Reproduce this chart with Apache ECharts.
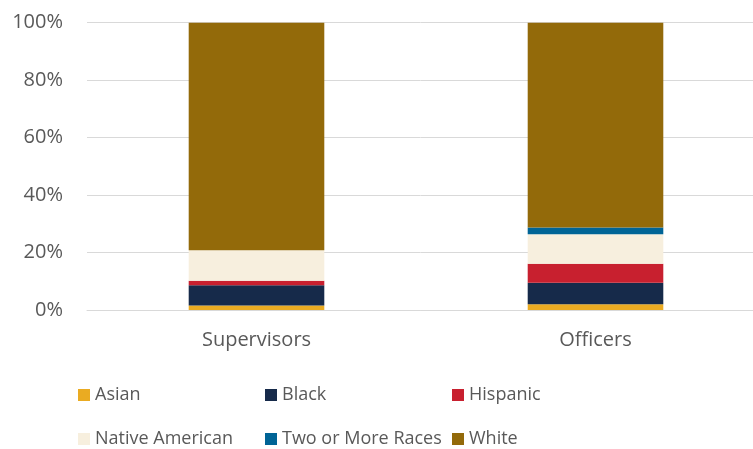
<!DOCTYPE html>
<html>
<head>
<meta charset="utf-8">
<script src="https://cdn.jsdelivr.net/npm/echarts@6/dist/echarts.min.js"></script>
<style>
  html, body { margin: 0; padding: 0; background: #fff; }
  #chart { width: 753px; height: 449px; }
</style>
</head>
<body>
<div id="chart"></div>
<script>
// Workforce composition by race, shares of each group (percent)
const categories = ['Supervisors', 'Officers'];
const seriesNames = ['Asian', 'Black', 'Hispanic', 'Native American', 'Two or More Races', 'White'];
const asian = [1.6, 2.0];
const black = [7.0, 7.5];
const hispanic = [1.6, 6.6];
const nativeAmerican = [10.6, 10.3];
const twoOrMore = [0.0, 2.3];
const white = [79.2, 71.3];
const tickLabels = ['0%', '20%', '40%', '60%', '80%', '100%'];

const seriesValues = [asian, black, hispanic, nativeAmerican, twoOrMore, white];
const colors = ['#EAAB22', '#162A4A', '#C8202F', '#F7EFDE', '#006496', '#936A0A'];

const FONT = 'Open Sans';
const TEXT = '#595959';

// one legend block per item so the entries sit in fixed columns
const legendCols = [78, 265, 452];
const legendRows = [386, 430];
const legends = seriesNames.map((name, i) => ({
  data: [name],
  left: legendCols[i % 3],
  top: legendRows[Math.floor(i / 3)],
  icon: 'rect',
  itemWidth: 12,
  itemHeight: 12,
  itemGap: 0,
  padding: 0,
  selectedMode: false,
  textStyle: { fontFamily: FONT, fontSize: 18, color: TEXT, padding: [0, 0, 0, 0] }
}));

const chart = echarts.init(document.getElementById('chart'), null, { renderer: 'canvas' });
chart.setOption({
  animation: false,
  color: colors,
  // plot area runs past the right edge; the gridlines are simply clipped there
  grid: { left: 87, width: 678, top: 22.7, bottom: 139, outerBoundsMode: 'none', containLabel: false },
  legend: legends,
  xAxis: {
    type: 'category',
    data: categories,
    axisLine: { show: true, lineStyle: { color: '#D9D9D9', width: 1 } },
    axisTick: { show: false },
    axisLabel: { fontFamily: FONT, fontSize: 20, color: TEXT, margin: 20 }
  },
  yAxis: {
    type: 'value',
    min: 0,
    max: 100,
    interval: 20,
    axisLine: { show: false },
    axisTick: { show: false },
    splitLine: { lineStyle: { color: '#D9D9D9', width: 1 } },
    axisLabel: {
      fontFamily: FONT, fontSize: 20, color: TEXT, margin: 24,
      formatter: (v) => tickLabels[Math.round(v / 20)]
    }
  },
  series: seriesNames.map((name, i) => ({
    name: name,
    type: 'bar',
    stack: 'total',
    barWidth: '40%',
    data: seriesValues[i]
  }))
});
</script>
</body>
</html>
